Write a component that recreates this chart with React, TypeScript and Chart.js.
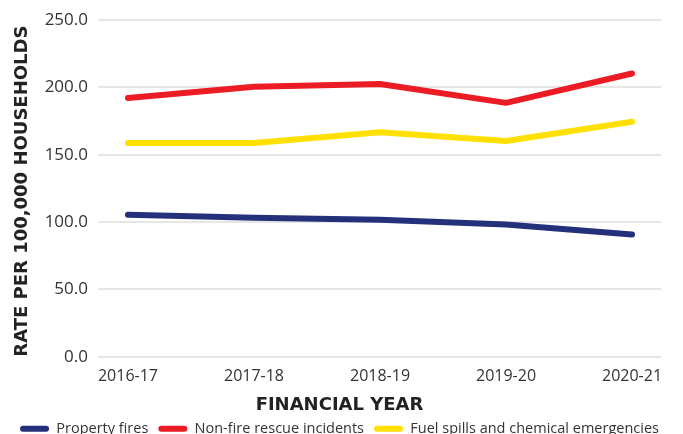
import React, { useEffect, useRef } from "react";
import { Chart, registerables } from "chart.js";

Chart.register(...registerables);

const years = ["2016-17", "2017-18", "2018-19", "2019-20", "2020-21"];
const propertyFires = [105.5, 103.3, 101.8, 98.2, 90.8];
const nonFireRescue = [192.2, 200.6, 202.6, 188.6, 210.4];
const fuelSpills = [158.8, 158.8, 166.8, 160.2, 174.6];
const yTicks = [0, 50, 100, 150, 200, 250];

const seriesNames = ["Property fires", "Non-fire rescue incidents", "Fuel spills and chemical emergencies"];
const seriesColors = ["#24317a", "#ec1c24", "#ffe000"];
const seriesValues = [propertyFires, nonFireRescue, fuelSpills];

export default function App() {
  const ref = useRef<HTMLCanvasElement | null>(null);
  useEffect(() => {
    document.body.style.margin = "0";
    const ctx = ref.current!;
    const chart = new Chart(ctx, {
      type: "line",
      data: {
        datasets: seriesValues.map((vals, k) => ({
          label: seriesNames[k],
          data: vals.map((v, i) => ({ x: i, y: v })),
          borderColor: seriesColors[k],
          backgroundColor: seriesColors[k],
          borderWidth: 6,
          borderCapStyle: "round" as const,
          borderJoinStyle: "round" as const,
          pointRadius: 0,
          tension: 0,
        })),
      },
      options: {
        animation: false,
        responsive: true,
        maintainAspectRatio: false,
        layout: { padding: { left: 8, right: 12, top: 18, bottom: -12 } },
        plugins: {
          tooltip: { enabled: false },
          title: {
            display: true,
            text: "FINANCIAL YEAR",
            position: "bottom",
            weight: 500,
            color: "#222222",
            padding: { top: 7, bottom: -5 },
            font: { family: "'DejaVu Sans'", size: 18, weight: "bold" },
          },
          legend: {
            position: "bottom",
            labels: {
              boxWidth: 29,
              boxHeight: 6,
              useBorderRadius: true,
              borderRadius: 3,
              padding: 10,
              color: "#333333",
              font: { family: "'Open Sans'", size: 14.5 },
              generateLabels: (c: any) =>
                Chart.defaults.plugins.legend.labels
                  .generateLabels(c)
                  .map((l: any) => ({ ...l, lineWidth: 0 })),
            },
          },
        },
        scales: {
          x: {
            type: "linear",
            min: -0.238,
            max: 4.23,
            grid: { display: false },
            border: { display: false },
            afterBuildTicks: (s: any) => {
              s.ticks = years.map((_, i) => ({ value: i }));
            },
            ticks: {
              autoSkip: false,
              maxRotation: 0,
              padding: 2,
              color: "#333333",
              font: { family: "'Open Sans'", size: 16 },
              callback: (v: any) => years[v as number] ?? "",
            },
          },
          y: {
            min: 0,
            max: 250,
            afterFit: (s: any) => {
              s.width = 90;
            },
            afterBuildTicks: (s: any) => {
              s.ticks = yTicks.map((v) => ({ value: v }));
            },
            grid: { color: "#e6e6e6", lineWidth: 2, drawTicks: false },
            border: { display: false },
            ticks: {
              padding: 10,
              color: "#333333",
              font: { family: "'Open Sans'", size: 17 },
              callback: (v: any) => Number(v).toFixed(1),
            },
            title: {
              display: true,
              text: "RATE PER 100,000 HOUSEHOLDS",
              align: "start",
              color: "#222222",
              padding: { top: 4, bottom: 4 },
              font: { family: "'DejaVu Sans'", size: 18, weight: "bold" },
            },
          },
          y2: {
            position: "right",
            min: 0,
            max: 250,
            grid: { display: false },
            border: { display: false },
            ticks: { display: false },
            afterFit: (s: any) => {
              s.width = 10;
            },
          },
        },
      },
    });
    return () => chart.destroy();
  }, []);
  return (
    <div style={{ position: "relative", width: "683px", height: "434px" }}>
      <canvas ref={ref} />
    </div>
  );
}
